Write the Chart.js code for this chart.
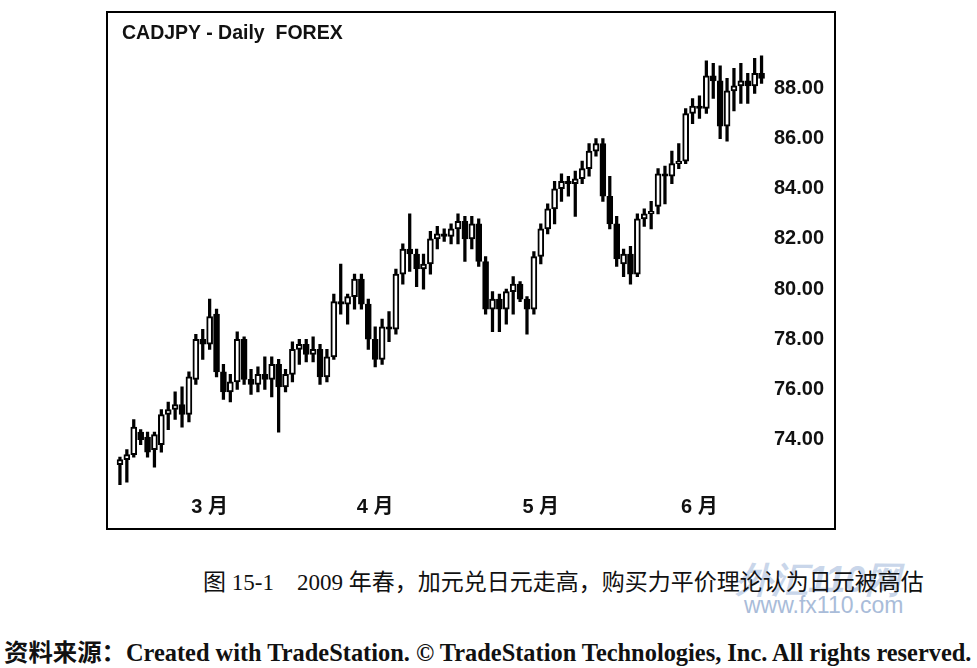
<!DOCTYPE html>
<html>
<head>
<meta charset="utf-8">
<script src="https://cdn.jsdelivr.net/npm/chart.js@4.4.0/dist/chart.umd.min.js"></script>
<style>
  body { margin: 0; background: #fff; width: 977px; height: 668px; position: relative; overflow: hidden; }
  #frame { position: absolute; left: 106px; top: 11px; width: 726px; height: 515px; border: 2px solid #000; }
  #cv { position: absolute; left: 1px; top: 1px; }
  #title { position: absolute; left: 14px; top: 8px; font: bold 19.5px "Liberation Sans", Arial, sans-serif; color: #111; }
  .wm1 { position: absolute; left: 736px; top: 556px; font: italic bold 36px "Liberation Sans", sans-serif; color: #c9d6ea; }
  .wm2 { position: absolute; left: 744px; top: 592px; font: 23px "Liberation Sans", sans-serif; color: #a9bcd9; }
  #caption { position: absolute; left: 203px; top: 563px; font: 23px "Liberation Serif", "Noto Sans CJK SC", serif; color: #111; white-space: nowrap; }
  #source { position: absolute; left: 4px; top: 633px; font: bold 24.4px "Liberation Serif", "Noto Sans CJK SC", serif; color: #111; white-space: nowrap; }
</style>
</head>
<body>
<div class="wm1">外汇110网</div>
<div class="wm2">www.fx110.com</div>
<div id="frame">
  <canvas id="cv" width="724" height="513"></canvas>
  <div id="title">CADJPY - Daily &nbsp;FOREX</div>
</div>
<div id="caption">图 15-1&nbsp;&nbsp;&nbsp; 2009 年春，加元兑日元走高，购买力平价理论认为日元被高估</div>
<div id="source">资料来源：Created with TradeStation. © TradeStation Technologies, Inc. All rights reserved.</div>
<script>
const opens  = [73.0,73.2,73.4,74.3,74.1,73.6,73.8,75.0,75.2,75.4,75.0,76.4,78.0,77.8,79.0,76.7,75.9,76.3,78.0,76.4,
                76.2,76.6,76.4,77.0,76.1,76.6,77.6,77.8,77.4,77.6,76.5,77.3,79.5,79.4,79.7,80.4,79.4,78.0,77.2,78.5,
                78.4,80.6,81.6,81.4,80.8,81.0,82.0,82.2,82.1,82.4,82.7,82.0,82.6,81.1,79.2,79.6,79.2,79.9,80.2,79.6,
                79.2,81.3,82.4,83.2,84.0,84.3,84.2,84.4,84.8,85.5,85.8,83.7,82.6,81.0,81.4,80.6,82.8,83.0,83.3,84.6,
                84.5,85.0,85.1,87.0,87.3,87.2,88.5,88.3,86.5,87.9,88.1,88.3,88.1,88.6];
const highs  = [73.3,73.6,74.8,74.4,74.3,74.3,75.2,75.5,75.9,76.1,76.7,78.2,78.4,79.6,79.2,77.0,76.6,78.3,78.1,76.8,
                76.9,77.3,77.3,77.2,76.8,77.9,78.0,78.0,78.1,77.8,77.6,79.8,81.0,79.8,80.6,80.6,79.6,78.5,78.8,79.1,
                80.8,81.8,83.0,81.6,81.4,82.3,82.5,82.4,82.6,83.0,82.9,82.9,82.8,81.3,79.9,79.8,80.0,80.5,80.3,79.7,
                81.5,82.6,83.4,84.3,84.6,84.5,84.7,85.1,85.8,86.0,86.0,84.5,82.9,81.6,81.7,83.0,83.2,83.5,84.8,84.9,
                85.5,85.8,87.2,87.6,87.7,89.1,89.0,88.9,88.4,88.8,89.0,88.6,89.2,89.3];
const lows   = [72.2,72.3,73.3,73.8,73.3,72.9,73.5,74.4,74.8,74.5,74.7,76.2,77.2,77.6,76.5,75.6,75.5,76.0,76.2,75.8,
                75.9,76.0,75.7,74.3,75.9,76.3,77.0,77.1,77.1,76.2,76.3,77.2,79.0,78.6,79.2,79.2,77.6,76.9,77.0,77.9,
                78.2,80.2,80.7,80.1,80.0,80.6,81.6,81.9,81.8,81.8,81.1,81.6,80.9,79.0,78.3,78.3,78.6,79.0,79.5,78.2,
                79.0,81.0,82.2,82.6,83.5,83.7,82.9,84.2,84.5,85.3,83.5,82.4,80.9,80.5,80.2,80.5,82.5,82.4,83.0,83.4,
                84.2,84.8,85.0,86.6,86.8,87.0,87.6,86.0,85.9,87.1,87.4,87.4,87.8,88.2];
const closes = [73.2,73.4,74.5,74.0,73.5,74.2,75.0,75.2,75.4,75.0,76.5,78.0,77.8,78.9,76.7,75.9,76.3,78.0,76.4,76.2,
                76.6,76.4,77.0,76.1,76.6,77.6,77.8,77.4,77.6,76.5,77.3,79.5,79.4,79.7,80.4,79.4,78.0,77.2,78.5,78.4,
                80.6,81.6,81.4,80.8,81.0,82.0,82.2,82.1,82.4,82.7,82.0,82.6,81.1,79.2,79.6,79.2,79.9,80.2,79.6,79.2,
                81.3,82.4,83.2,84.0,84.3,84.2,84.4,84.8,85.5,85.8,83.7,82.6,81.2,81.4,80.6,82.8,83.0,83.1,84.6,84.5,
                85.0,85.1,87.0,87.3,87.2,88.5,88.3,86.5,87.9,88.1,88.3,88.1,88.6,88.4];

const yTicks = [74, 76, 78, 80, 82, 84, 86, 88];
const monthIdx = [13, 37, 61, 84];
const monthNames = ['3 月', '4 月', '5 月', '6 月'];

const labels = opens.map(function(v, i){ return i; });

const data = {
    labels: labels,
    datasets: [
        {
            // bodies (drawn on top)
            data: opens.map(function(o, i){ return [o, closes[i]]; }),
            backgroundColor: opens.map(function(o, i){ return closes[i] >= o ? '#fff' : '#000'; }),
            borderColor: '#000',
            borderWidth: 2,
            borderSkipped: false,
            barThickness: 6,
            grouped: false
        },
        {
            // wicks
            data: lows.map(function(l, i){ return [l, highs[i]]; }),
            backgroundColor: '#000',
            borderWidth: 0,
            barThickness: 2.6,
            grouped: false
        }
    ]
};

const config = {
    type: 'bar',
    data: data,
    options: {
        responsive: false,
        animation: false,
        layout: { padding: { left: 7.5, right: 0, top: 16, bottom: 0 } },
        plugins: { legend: { display: false }, tooltip: { enabled: false } },
        scales: {
            x: {
                offset: true,
                grid: { display: false, drawTicks: false },
                border: { display: false },
                ticks: {
                    autoSkip: false,
                    maxRotation: 0,
                    padding: 10,
                    color: '#111',
                    font: { family: '"Liberation Sans", "Noto Sans CJK SC"', size: 20, weight: 'bold' },
                    callback: function(value){
                        const k = monthIdx.indexOf(value);
                        return k >= 0 ? monthNames[k] : '';
                    }
                },
                afterFit: function(scale){ scale.height = 42; }
            },
            y: {
                position: 'right',
                min: 72.19,
                max: 90.13,
                grid: { display: false, drawTicks: false },
                border: { display: false },
                afterBuildTicks: function(scale){
                    scale.ticks = yTicks.map(function(v){ return { value: v }; });
                },
                ticks: {
                    padding: 9,
                    color: '#111',
                    font: { family: '"Liberation Sans", Arial', size: 20, weight: 'bold' },
                    callback: function(value){ return value.toFixed(2); }
                },
                afterFit: function(scale){ scale.width = 68; }
            }
        }
    }
};

new Chart(document.getElementById('cv'), config);
</script>
</body>
</html>
